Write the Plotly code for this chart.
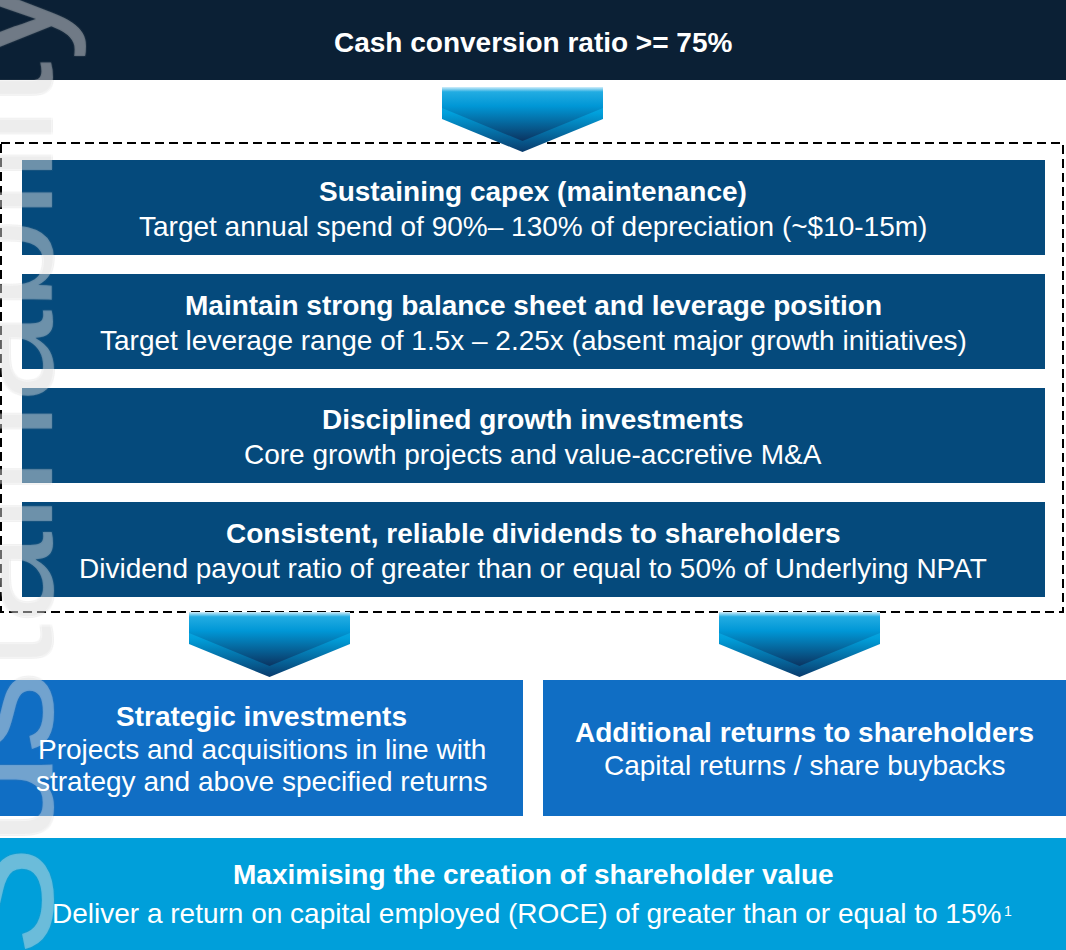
import plotly.graph_objects as go

# ---- content ----
top_title = ["Cash conversion ratio >= 75%"]
step_titles = [
    "Sustaining capex (maintenance)",
    "Maintain strong balance sheet and leverage position",
    "Disciplined growth investments",
    "Consistent, reliable dividends to shareholders",
]
step_details = [
    "Target annual spend of 90%\u2013 130% of depreciation (~$10-15m)",
    "Target leverage range of 1.5x \u2013 2.25x (absent major growth initiatives)",
    "Core growth projects and value-accretive M&A",
    "Dividend payout ratio of greater than or equal to 50% of Underlying NPAT",
]
left_title = ["Strategic investments"]
left_details = ["Projects and acquisitions in line with", "strategy and above specified returns"]
right_title = ["Additional returns to shareholders"]
right_details = ["Capital returns / share buybacks"]
bottom_title = ["Maximising the creation of shareholder value"]
bottom_details = ["Deliver a return on capital employed (ROCE) of greater than or equal to 15%"]
footnote_mark = ["1"]
watermark = ["Sustainability"]

W, H = 1066, 950
FONT = "Liberation Sans, Arial, sans-serif"
FS = 28
C_TOP = "#0b2035"
C_STEP = "#054a7c"
C_MID = "#106ec4"
C_BOT = "#009fda"

fig = go.Figure()
shapes = []
ann = []

def rect(x0, y0, x1, y1, color):
    shapes.append(dict(type="rect", xref="x", yref="y", x0=x0, x1=x1, y0=y0, y1=y1,
                       fillcolor=color, line=dict(width=0), layer="below"))

def text(x, y, s, bold=False, size=FS):
    ann.append(dict(x=x, y=y, xref="x", yref="y", text=(f"<b>{s}</b>" if bold else s),
                    showarrow=False, xanchor="center", yanchor="middle",
                    font=dict(family=FONT, size=size, color="white")))

# top box
rect(0, 0, W, 80, C_TOP)
text(533, 42, top_title[0], bold=True)

# dashed frame
shapes.append(dict(type="rect", xref="x", yref="y", x0=1, x1=1063, y0=143, y1=612,
                   line=dict(color="black", width=2, dash="9px,5px"), layer="below"))

# step boxes
step_tops = [160, 274, 388, 502]
for i, t in enumerate(step_tops):
    rect(22, t, 1045, t + 95, C_STEP)
    text(533, t + 31, step_titles[i], bold=True)
    text(533, t + 66, step_details[i])

# lower boxes
rect(0, 680, 523, 816, C_MID)
rect(543, 680, W, 816, C_MID)
text(261.5, 716, left_title[0], bold=True)
for j, s in enumerate(left_details):
    text(261.5, 749 + 32.5 * j, s)
text(804.5, 732, right_title[0], bold=True)
text(804.5, 765, right_details[0])

rect(0, 838, W, H, C_BOT)
text(533, 874, bottom_title[0], bold=True)
text(526, 913, bottom_details[0])
ann.append(dict(x=1002, y=911, xref="x", yref="y", text=footnote_mark[0], showarrow=False,
                xanchor="left", yanchor="middle",
                font=dict(family=FONT, size=14, color="white")))

# arrows with gradients
def arrow(x0, top):
    x1 = x0 + 161
    xm = (x0 + x1) / 2
    fig.add_trace(go.Scatter(
        x=[x0, x1, x1, xm, x0, x0], y=[top, top, top + 32, top + 65, top + 32, top],
        mode="lines", line=dict(width=0), fill="toself", hoverinfo="skip", showlegend=False,
        fillgradient=dict(type="vertical", start=top, stop=top + 65,
                          colorscale=[[0, "#d2eefa"], [0.08, "#22ace2"], [0.4, "#00a0dc"],
                                      [1, "#0a3b6c"]])))
    fig.add_trace(go.Scatter(
        x=[x0, x1, x1, xm, x0, x0], y=[top, top, top + 21, top + 54, top + 21, top],
        mode="lines", line=dict(width=0), fill="toself", hoverinfo="skip", showlegend=False,
        fillgradient=dict(type="vertical", start=top, stop=top + 54,
                          colorscale=[[0, "#d2eefa"], [0.09, "#22ace2"], [0.35, "#0097d6"],
                                      [1, "#0b3461"]])))

arrow(442, 87)
arrow(189, 612)
arrow(719, 612)

# watermark
oc = "rgba(150,150,150,0.2)"
wm = dict(x=88, y=468, xref="x", yref="y", text=watermark[0], showarrow=False,
          textangle=-90, xanchor="right", yanchor="middle",
          font=dict(family=FONT, size=166, color="rgba(255,255,255,0.33)",
                    shadow=f"1px 1px 0 {oc}, -1px -1px 0 {oc}, 1px -1px 0 {oc}, -1px 1px 0 {oc}"))
ann.insert(0, wm)

fig.update_layout(
    width=W, height=H, margin=dict(l=0, r=0, t=0, b=0),
    paper_bgcolor="white", plot_bgcolor="white",
    xaxis=dict(range=[0, W], visible=False, fixedrange=True),
    yaxis=dict(range=[H, 0], visible=False, fixedrange=True),
    shapes=shapes, annotations=ann, showlegend=False,
)

fig.write_html("out.html", config={"displayModeBar": False},
               post_script="document.body.style.margin='0';document.body.style.overflow='hidden';")
